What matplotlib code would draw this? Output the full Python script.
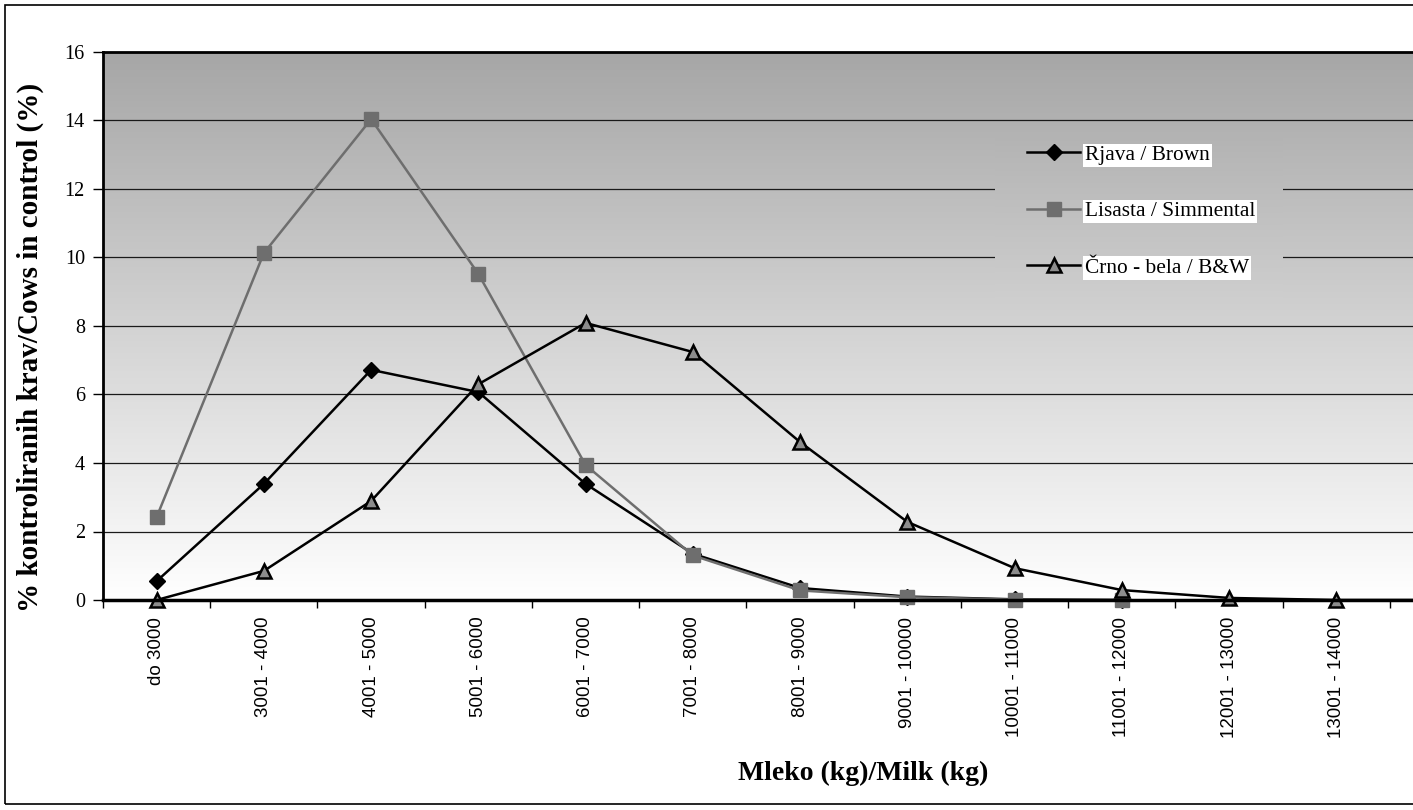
import matplotlib

matplotlib.use("Agg")
import matplotlib.pyplot as plt
import numpy as np
from matplotlib.lines import Line2D
from matplotlib.patches import Rectangle

# 数据：产奶量区间 vs 受控奶牛比例 (%)
categories = ["do 3000", "3001 - 4000", "4001 - 5000", "5001 - 6000",
              "6001 - 7000", "7001 - 8000", "8001 - 9000", "9001 - 10000",
              "10001 - 11000", "11001 - 12000", "12001 - 13000", "13001 - 14000"]
brown = [0.55, 3.39, 6.72, 6.07, 3.39, 1.35, 0.35, 0.10, 0.02, 0.0]
simmental = [2.42, 10.13, 14.04, 9.52, 3.94, 1.30, 0.28, 0.08, 0.01, 0.0]
bw = [0.0, 0.85, 2.89, 6.30, 8.09, 7.24, 4.61, 2.28, 0.93, 0.29, 0.06, 0.0, 0.0]

serif = ["Liberation Serif", "DejaVu Serif"]

fig = plt.figure(figsize=(14.13, 8.10), dpi=100)
ax = fig.add_axes([103 / 1413, 1 - 600 / 810, 1 - 103 / 1413, 548 / 810])

x_max = 11.5 + 23 / 107.2

# 渐变背景（上灰下白）
cmap = matplotlib.colors.LinearSegmentedColormap.from_list("bg", ["#ffffff", "#a6a6a6"])
grad = np.linspace(0, 16, 256).reshape(-1, 1)
ax.imshow(grad, cmap=cmap, vmin=0, vmax=16, origin="lower", aspect="auto",
          extent=(-0.5, x_max, 0, 16), zorder=0)

for yv in range(2, 17, 2):
    ax.axhline(yv, color="#1a1a1a", lw=0.9, zorder=1)

# 图例区域挡住网格线
lx0, lx1, ly0, ly1 = 7.82, 10.5, 8.7, 13.6
sub = np.linspace(ly0, ly1, 64).reshape(-1, 1)
ax.imshow(sub, cmap=cmap, vmin=0, vmax=16, origin="lower", aspect="auto",
          extent=(lx0, lx1, ly0, ly1), zorder=2)
ax.set_xlim(-0.5, x_max)
ax.set_ylim(0, 16)

styles = [
    (brown, dict(color="black", marker="D", ms=8, mfc="black", mec="black", mew=1), 4),
    (simmental, dict(color="#6e6e6e", marker="s", ms=10, mfc="#6e6e6e", mec="#6e6e6e", mew=1), 5),
    (bw, dict(color="black", marker="^", ms=10, mfc="#8c8c8c", mec="black", mew=1.8), 6),
]
n_vis = len(categories)
for vals, st, z in styles:
    xs = np.arange(len(vals))
    ax.plot(xs, vals, color=st["color"], lw=1.8, zorder=z)
    m = min(len(vals), n_vis)
    ax.plot(xs[:m], vals[:m], ls="none", zorder=z + 0.5, clip_on=False,
            **{k: v for k, v in st.items() if k != "color"})

ax.set_xticks(np.arange(len(categories)))
ax.set_xticklabels(categories, rotation=90, family="Liberation Sans", fontsize=13.5,
                   va="top")
ax.set_xticks(np.arange(len(categories) + 1) - 0.5, minor=True)
ax.tick_params(axis="x", which="major", length=0, pad=12)
ax.tick_params(axis="x", which="minor", length=6, width=1, direction="out")
ax.set_yticks(range(0, 17, 2))
ax.set_yticklabels([str(v) for v in range(0, 17, 2)], family=serif, fontsize=14.5)
ax.tick_params(axis="y", length=7, width=1, direction="out", pad=6)

for side in ["left", "top", "bottom"]:
    ax.spines[side].set_color("black")
    ax.spines[side].set_zorder(8)
ax.spines["left"].set_linewidth(2)
ax.spines["top"].set_linewidth(2)
ax.spines["bottom"].set_linewidth(2.5)
ax.spines["right"].set_visible(False)

ax.set_ylabel("% kontroliranih krav/Cows in control (%)", family=serif,
              fontweight="bold", fontsize=21, va="center")
ax.yaxis.set_label_coords(-(103 - 30) / 1310, (600 - 347) / 548)
ax.set_xlabel("Mleko (kg)/Milk (kg)", family=serif, fontweight="bold", fontsize=20)
ax.xaxis.set_label_coords((863 - 103) / 1310, -(773 - 600) / 548)
ax.xaxis.label.set_va("center")

# 图例（文字带白底）
handles = [
    Line2D([], [], color="black", lw=1.8, marker="D", ms=8, mfc="black", mec="black"),
    Line2D([], [], color="#6e6e6e", lw=1.8, marker="s", ms=10, mfc="#6e6e6e", mec="#6e6e6e"),
    Line2D([], [], color="black", lw=1.8, marker="^", ms=10, mfc="#8c8c8c", mec="black", mew=1.8),
]
labels = ["Rjava / Brown", "Lisasta / Simmental", "Črno - bela / B&W"]
leg = ax.legend(handles, labels, loc="upper left",
                bbox_to_anchor=((1027 - 103) / 1310, (600 - 145) / 548),
                frameon=False, prop={"family": serif, "size": 15.4}, labelspacing=1.7,
                handlelength=2.5, handletextpad=0.2, borderpad=0, borderaxespad=0)
leg.set_zorder(7)
for t in leg.get_texts():
    t.set_bbox(dict(facecolor="white", edgecolor="none", pad=1.5))

# 外框
fig.add_artist(Rectangle((5 / 1413, 1 - 804 / 810), 1.2, 799 / 810, transform=fig.transFigure,
                         fill=False, edgecolor="black", lw=1.2))

fig.savefig("out.png", dpi=100)
